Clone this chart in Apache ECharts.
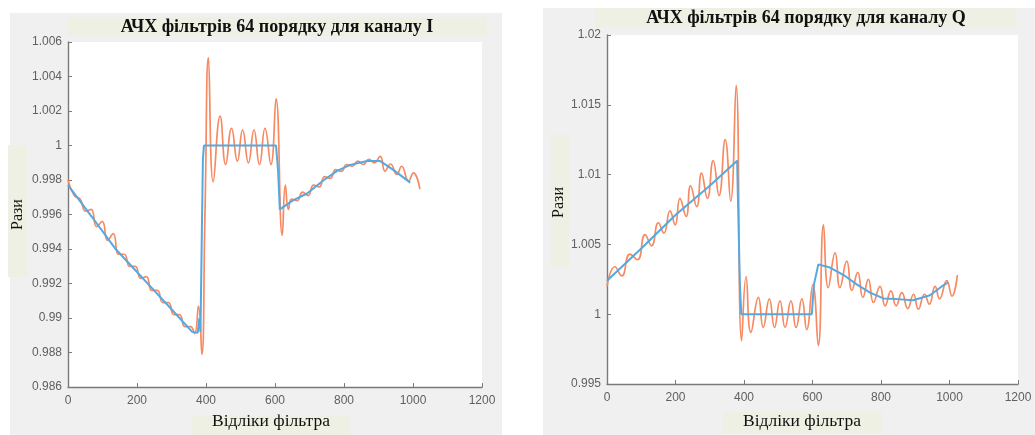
<!DOCTYPE html>
<html>
<head>
<meta charset="utf-8">
<script src="https://cdn.jsdelivr.net/npm/echarts@6/dist/echarts.min.js"></script>
<style>
html,body{margin:0;padding:0;background:#fff;}
#c{width:1035px;height:435px;}
</style>
</head>
<body>
<div id="c"></div>
<script>
// ---- texts ----
const titleI = 'АЧХ фільтрів 64 порядку для каналу I';
const titleQ = 'АЧХ фільтрів 64 порядку для каналу Q';
const xName = 'Відліки фільтра';
const yName = 'Рази';

// ---- tick labels ----
const xTicks = [0, 200, 400, 600, 800, 1000, 1200];
const yTicksI = [0.986, 0.988, 0.99, 0.992, 0.994, 0.996, 0.998, 1, 1.002, 1.004, 1.006];
const yTicksQ = [0.995, 1, 1.005, 1.01, 1.015, 1.02];

// ---- channel I : blue (smooth response) ----
const iBlueX = [0, 68, 136, 200, 250, 300, 360, 376, 381, 384, 388, 391, 394, 603, 609, 614, 652, 693, 739, 780, 818, 867, 905, 943, 992];
const iBlueY = [0.9977, 0.9959, 0.99405, 0.99267, 0.99159, 0.99051, 0.9892, 0.98915, 0.9900, 0.9892, 0.9950, 0.9992, 1.0, 1.0, 0.9985, 0.9963, 0.99682, 0.99722, 0.99796, 0.99853, 0.99888, 0.9991, 0.9991, 0.99859, 0.99785];

// ---- channel I : orange (rippled response) ----
const iOrangeX = [0, 18, 35, 51, 67, 83, 99, 115, 131, 147, 163, 179, 195, 211, 227, 243, 259, 275, 291, 307, 323, 339, 355, 367, 378, 388, 397, 407, 421, 441, 457, 474, 491, 506, 523, 539, 555, 571, 588, 603, 621, 630, 639, 648, 664, 680, 696, 712, 728, 744, 760, 776, 792, 808, 824, 840, 856, 872, 888, 905, 919, 935, 953, 967, 987, 1001, 1020];
const iOrangeY = [0.9980, 0.9971, 0.9969, 0.9962, 0.9963, 0.9953, 0.9956, 0.9945, 0.9949, 0.9937, 0.9937, 0.9930, 0.9930, 0.9923, 0.9924, 0.9916, 0.9916, 0.9909, 0.9909, 0.9902, 0.9902, 0.9895, 0.9895, 0.9891, 0.9907, 0.9879, 0.9960, 1.0051, 0.9979, 1.0017, 0.9989, 1.0010, 0.9991, 1.0009, 0.9990, 1.0009, 0.9989, 1.0010, 0.9989, 1.0027, 0.9948, 0.9977, 0.9963, 0.9969, 0.9968, 0.9973, 0.9971, 0.9977, 0.9976, 0.9982, 0.9981, 0.9986, 0.9985, 0.9989, 0.9988, 0.9991, 0.9989, 0.9992, 0.9990, 0.99937, 0.99852, 0.99893, 0.99832, 0.9988, 0.99795, 0.99842, 0.99747];

// ---- channel Q : blue ----
const qBlueX = [0, 100, 200, 300, 380, 382, 388, 392, 598, 604, 617, 651, 695, 729, 768, 807, 846, 894, 943, 982, 996];
const qBlueY = [1.0024, 1.0047, 1.0071, 1.0092, 1.0110, 1.0086, 1.0022, 1.0000, 1.0000, 1.0021, 1.00357, 1.00334, 1.00274, 1.00214, 1.00155, 1.00113, 1.00108, 1.0010, 1.00136, 1.00207, 1.00227];

// ---- channel Q : orange ----
const qOrangeX = [0, 23, 43, 67, 89, 111, 130, 150, 166, 184, 199, 213, 231, 244, 262, 276, 293, 310, 327, 345, 361, 377, 393, 406, 420, 442, 456, 474, 489, 505, 520, 537, 552, 569, 583, 601, 617, 632, 646, 666, 680, 700, 715, 732, 747, 763, 778, 797, 812, 829, 844, 861, 878, 895, 909, 927, 941, 958, 971, 992, 1007, 1023];
const qOrangeY = [1.0020, 1.0034, 1.00274, 1.0043, 1.0039, 1.0057, 1.0049, 1.00655, 1.0058, 1.0074, 1.0064, 1.0083, 1.0070, 1.0092, 1.0077, 1.0101, 1.0083, 1.0110, 1.0085, 1.0125, 1.0081, 1.0164, 0.9981, 1.0027, 0.9987, 1.0012, 0.99905, 1.0011, 0.99905, 1.00096, 0.99905, 1.00096, 0.99905, 1.0011, 0.9989, 1.0021, 0.99775, 1.0064, 1.0019, 1.0044, 1.0019, 1.0038, 1.0017, 1.0030, 1.0012, 1.0025, 1.00084, 1.0020, 1.0006, 1.00167, 1.0006, 1.00155, 1.0004, 1.00143, 1.00036, 1.00143, 1.00072, 1.0020, 1.0011, 1.0024, 1.0013, 1.0028];

const zip = (xs, ys) => xs.map((x, i) => [x, ys[i]]);
const fmt = v => String(parseFloat(Number(v).toFixed(4)));

const BLUE = '#55a8e0';
const ORANGE = '#f68a62';
const PANEL = '#f0f0f0';
const BOX = '#edf0e2';
const AXIS = '#7a7a7a';
const LABEL = '#606060';
const SERIF = '"Liberation Serif", "DejaVu Serif", serif';
const SANS = '"Liberation Sans", Arial, sans-serif';

function xAxis(gridIndex, namePad, nameGap) {
  return {
    type: 'value', gridIndex,
    min: xTicks[0], max: xTicks[xTicks.length - 1], interval: xTicks[1] - xTicks[0],
    name: xName, nameLocation: 'middle', nameGap,
    nameTextStyle: { fontFamily: SERIF, fontSize: 17.5, color: '#111', padding: namePad },
    axisLine: { show: true, lineStyle: { color: AXIS, width: 1.4 } },
    axisTick: { show: true, inside: true, length: 4, lineStyle: { color: AXIS } },
    axisLabel: { color: LABEL, fontFamily: SANS, fontSize: 12, margin: 8, formatter: fmt },
    splitLine: { show: false }
  };
}
function yAxis(gridIndex, ticks, namePad, nameGap) {
  return {
    type: 'value', gridIndex,
    min: ticks[0], max: ticks[ticks.length - 1],
    interval: +(ticks[1] - ticks[0]).toFixed(4),
    name: yName, nameLocation: 'middle', nameGap,
    nameTextStyle: { fontFamily: SERIF, fontSize: 16, color: '#111', padding: namePad },
    axisLine: { show: true, lineStyle: { color: AXIS, width: 1.4 } },
    axisTick: { show: true, inside: true, length: 4, lineStyle: { color: AXIS } },
    axisLabel: { color: LABEL, fontFamily: SANS, fontSize: 12, margin: 6, formatter: fmt },
    splitLine: { show: false }
  };
}
function line(data, xi, color, width, smooth, z) {
  return {
    type: 'line', data, xAxisIndex: xi, yAxisIndex: xi, symbol: 'none',
    smooth, z, lineStyle: { color, width }, animation: false
  };
}

const chart = echarts.init(document.getElementById('c'), null, { renderer: 'canvas' });
chart.setOption({
  animation: false,
  backgroundColor: '#ffffff',
  graphic: [
    { type: 'rect', z: -100, shape: { x: 10, y: 13, width: 492, height: 422 }, style: { fill: PANEL } },
    { type: 'rect', z: -100, shape: { x: 543, y: 8, width: 492, height: 427 }, style: { fill: PANEL } },
    { type: 'rect', z: -90, shape: { x: 68, y: 17, width: 419, height: 19 }, style: { fill: BOX } },
    { type: 'rect', z: -90, shape: { x: 595, y: 8, width: 421, height: 19 }, style: { fill: BOX } },
    { type: 'rect', z: -90, shape: { x: 8, y: 145, width: 19, height: 132 }, style: { fill: BOX } },
    { type: 'rect', z: -90, shape: { x: 551, y: 135, width: 18, height: 132 }, style: { fill: BOX } },
    { type: 'rect', z: -90, shape: { x: 192, y: 416, width: 158, height: 19 }, style: { fill: BOX } },
    { type: 'rect', z: -90, shape: { x: 723, y: 412, width: 159, height: 21 }, style: { fill: BOX } }
  ],
  title: [
    { text: titleI, left: 277, top: 18, textAlign: 'center', padding: 0,
      textStyle: { fontFamily: SERIF, fontWeight: 'bold', fontSize: 18, color: '#111' } },
    { text: titleQ, left: 806, top: 9, textAlign: 'center', padding: 0,
      textStyle: { fontFamily: SERIF, fontWeight: 'bold', fontSize: 18, color: '#111' } }
  ],
  grid: [
    { left: 68, top: 42, width: 414, height: 351, show: true, backgroundColor: '#ffffff', borderWidth: 0 },
    { left: 607, top: 35, width: 411, height: 350, show: true, backgroundColor: '#ffffff', borderWidth: 0 }
  ],
  xAxis: [xAxis(0, [0, 8, 0, 0], 23), xAxis(1, [0, 21, 0, 0], 28)],
  yAxis: [yAxis(0, yTicksI, [0, 0, 0, 0], 42), yAxis(1, yTicksQ, [0, 0, 0, 14], 39)],
  series: [
    line(zip(iOrangeX, iOrangeY), 0, ORANGE, 1.7, 0.5, 2),
    line(zip(iBlueX, iBlueY), 0, BLUE, 2, false, 3),
    line(zip(qOrangeX, qOrangeY), 1, ORANGE, 1.7, 0.5, 2),
    line(zip(qBlueX, qBlueY), 1, BLUE, 2, false, 3)
  ]
});
</script>
</body>
</html>
